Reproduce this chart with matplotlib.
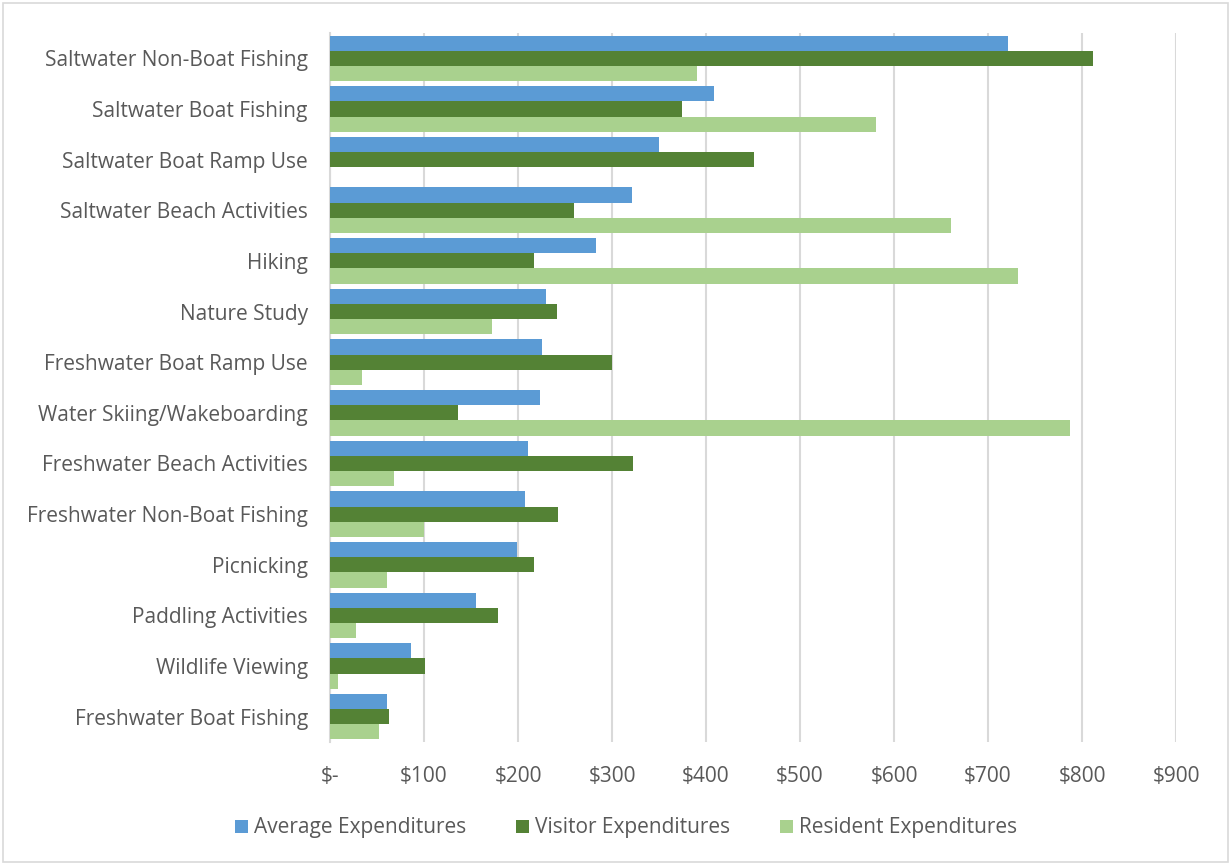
import matplotlib
matplotlib.use("Agg")
import matplotlib.pyplot as plt
from matplotlib.patches import Rectangle
import numpy as np

activities = [
    "Saltwater Non-Boat Fishing",
    "Saltwater Boat Fishing",
    "Saltwater Boat Ramp Use",
    "Saltwater Beach Activities",
    "Hiking",
    "Nature Study",
    "Freshwater Boat Ramp Use",
    "Water Skiing/Wakeboarding",
    "Freshwater Beach Activities",
    "Freshwater Non-Boat Fishing",
    "Picnicking",
    "Paddling Activities",
    "Wildlife Viewing",
    "Freshwater Boat Fishing",
]
average = [721, 409, 350, 321, 283, 230, 226, 223, 211, 207, 199, 155, 86, 61]
visitor = [812, 374, 451, 260, 217, 242, 300, 136, 322, 243, 217, 179, 101, 63]
resident = [390, 581, 0, 661, 732, 172, 34, 787, 68, 100, 61, 28, 9, 52]

x_ticks = [0, 100, 200, 300, 400, 500, 600, 700, 800, 900]
x_labels = ["$-"] + ["$%d" % v for v in x_ticks[1:]]

c_avg = "#5B9BD5"
c_vis = "#548235"
c_res = "#A9D18E"
txt = "#595959"

plt.rcParams["font.family"] = ["Open Sans", "DejaVu Sans"]

fig = plt.figure(figsize=(12.31, 8.65), dpi=100)
ax = fig.add_axes([330 / 1231, 1 - 742 / 865, (1176 - 330) / 1231, (742 - 33) / 865])

y = np.arange(len(activities))
h = 0.3
ax.barh(y - h, average, height=h, color=c_avg, label="Average Expenditures", zorder=3)
ax.barh(y, visitor, height=h, color=c_vis, label="Visitor Expenditures", zorder=3)
ax.barh(y + h, resident, height=h, color=c_res, label="Resident Expenditures", zorder=3)

ax.set_ylim(len(activities) - 0.5, -0.5)
ax.set_xlim(0, 900)
ax.set_yticks(y)
ax.set_yticklabels(activities, fontsize=15, color=txt)
ax.set_xticks(x_ticks)
ax.set_xticklabels(x_labels, fontsize=15, color=txt)
ax.tick_params(length=0)
ax.tick_params(axis="y", pad=16)
ax.tick_params(axis="x", pad=17)

ax.grid(axis="x", color="#D9D9D9", linewidth=1.5, zorder=0)
for s in ["top", "right", "bottom"]:
    ax.spines[s].set_visible(False)
ax.spines["left"].set_color("#D9D9D9")
ax.spines["left"].set_linewidth(1.5)

fig.legend(loc="center", bbox_to_anchor=(626 / 1231, 1 - 828 / 865), ncol=3,
           frameon=False, fontsize=15, labelcolor=txt,
           handlelength=0.6, handleheight=0.6, handletextpad=0.3, columnspacing=2.4)

# thin frame around the whole chart
fig.patches.append(Rectangle((3 / 1231, 3 / 865), 1 - 6 / 1231, 1 - 6 / 865,
                             transform=fig.transFigure, fill=False,
                             edgecolor="#D9D9D9", linewidth=1.2))

fig.savefig("out.png", dpi=100)
